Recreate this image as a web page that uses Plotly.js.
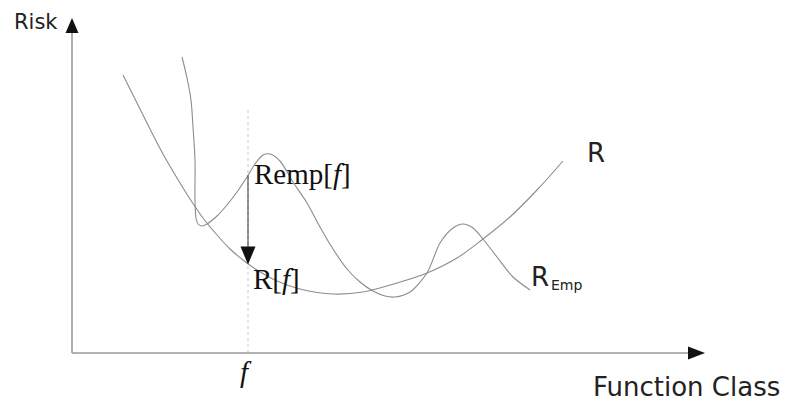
<!DOCTYPE html>
<html>
<head>
<meta charset="utf-8">
<script src="https://cdn.plot.ly/plotly-3.0.1.min.js"></script>
<style>html,body{margin:0;padding:0;background:#fff;}#chart{width:786px;height:401px;}</style>
</head>
<body>
<div id="chart"></div>
<script>
// Function-class axis (x) and risk axis (y), units
var rX    = [51, 65, 78, 91, 105, 118, 131, 145, 158, 171, 185, 205, 228, 261, 291, 325, 355, 385, 411, 438, 465, 491];
var rY    = [278, 250, 224, 199, 175, 154, 135, 118, 104, 93, 83, 72, 64, 59, 61, 70, 80, 95, 114, 136, 163, 192];

var rempX = [110, 115, 119, 121, 123, 123, 124, 126, 130, 135, 145, 155, 165, 175, 183, 191, 198, 208, 221, 235, 248, 261, 275, 288, 301, 313, 323, 338, 355, 368, 381, 391, 401, 411, 425, 441, 458];
var rempY = [296, 275, 253, 226, 193, 153, 135, 129, 127, 129, 137, 148, 161, 176, 189, 198, 199, 192, 171, 150, 126, 104, 84, 71, 62, 57, 56, 61, 80, 110, 125, 129, 125, 114, 96, 76, 63];

var fX = 176;            // the chosen function f
var fLineTop = 246;      // top of the dotted guide
var xAxisEnd = 633;      // tip of the x-axis arrow
var yAxisEnd = 335;      // tip of the y-axis arrow

function interp(xs, ys, x) {
  for (var i = 0; i < xs.length - 1; i++) {
    if (xs[i + 1] !== xs[i] && x >= Math.min(xs[i], xs[i + 1]) && x <= Math.max(xs[i], xs[i + 1])) {
      var t = (x - xs[i]) / (xs[i + 1] - xs[i]);
      return ys[i] + t * (ys[i + 1] - ys[i]);
    }
  }
  return ys[ys.length - 1];
}
var rempAtF = interp(rempX, rempY, fX);
var rAtF = interp(rX, rY, fX);

function head(tx, ty, dir, len, half) {
  // filled triangle arrow head, tip at (tx,ty)
  if (dir === 'up')    return 'M' + tx + ',' + ty + ' L' + (tx - half) + ',' + (ty - len) + ' L' + (tx + half) + ',' + (ty - len) + ' Z';
  if (dir === 'down')  return 'M' + tx + ',' + ty + ' L' + (tx - half) + ',' + (ty + len) + ' L' + (tx + half) + ',' + (ty + len) + ' Z';
  return 'M' + tx + ',' + ty + ' L' + (tx - len) + ',' + (ty - half) + ' L' + (tx - len) + ',' + (ty + half) + ' Z';
}

var curveColor = '#8c8c8c';
var traces = [
  {x: rX, y: rY, mode: 'lines', line: {color: curveColor, width: 1.1, shape: 'spline', smoothing: 1}, hoverinfo: 'skip'},
  {x: rempX, y: rempY, mode: 'lines', line: {color: curveColor, width: 1.1, shape: 'spline', smoothing: 0.8}, hoverinfo: 'skip'}
];

var shapes = [
  {type: 'line', x0: fX, x1: fX, y0: 0, y1: fLineTop, line: {color: '#c8c8c8', width: 1, dash: 'dot'}},
  {type: 'line', x0: 0, x1: xAxisEnd - 15, y0: 0, y1: 0, line: {color: '#9a9a9a', width: 1.6}},
  {type: 'line', x0: 0, x1: 0, y0: 0, y1: yAxisEnd - 13, line: {color: '#9a9a9a', width: 1.6}},
  {type: 'path', path: head(xAxisEnd, 0, 'right', 17, 6.5), fillcolor: '#111', line: {width: 0}},
  {type: 'path', path: head(0, yAxisEnd, 'up', 15, 6.5), fillcolor: '#111', line: {width: 0}},
  {type: 'line', x0: fX, x1: fX, y0: rempAtF, y1: rAtF + 10, line: {color: '#333', width: 1}},
  {type: 'path', path: head(fX, rAtF - 1, 'down', 18, 7.5), fillcolor: '#111', line: {width: 0}}
];

var sans = 'DejaVu Sans, sans-serif';
var serif = 'Liberation Serif, Times New Roman, serif';
var annotations = [
  {x: -60, y: 331, text: 'Risk', xanchor: 'left', yanchor: 'middle', showarrow: false, font: {family: sans, size: 21, color: '#222'}},
  {x: 519, y: -34, text: 'Function Class', xanchor: 'left', yanchor: 'middle', showarrow: false, font: {family: sans, size: 26, color: '#222'}},
  {x: 513, y: 200, text: 'R', xanchor: 'left', yanchor: 'middle', showarrow: false, font: {family: sans, size: 26, color: '#222'}},
  {x: 457, y: 76, text: 'R', xanchor: 'left', yanchor: 'middle', showarrow: false, font: {family: sans, size: 26, color: '#222'}},
  {x: 477, y: 68, text: 'Emp', xanchor: 'left', yanchor: 'middle', showarrow: false, font: {family: sans, size: 14, color: '#222'}},
  {x: fX + 4, y: 179, text: 'Remp[<i>f</i>]', xanchor: 'left', yanchor: 'middle', showarrow: false, font: {family: serif, size: 29, color: '#111'}},
  {x: fX + 3, y: 74, text: 'R[<i>f</i>]', xanchor: 'left', yanchor: 'middle', showarrow: false, font: {family: serif, size: 29, color: '#111'}},
  {x: fX - 2, y: -19, text: '<i>f</i>', xanchor: 'center', yanchor: 'middle', showarrow: false, font: {family: serif, size: 29, color: '#111'}}
];

var layout = {
  width: 786, height: 401,
  margin: {l: 0, r: 0, t: 0, b: 0},
  paper_bgcolor: '#fff', plot_bgcolor: '#fff',
  showlegend: false,
  xaxis: {range: [-72, 714], visible: false, fixedrange: true},
  yaxis: {range: [-48, 353], visible: false, fixedrange: true},
  shapes: shapes,
  annotations: annotations
};
Plotly.newPlot('chart', traces, layout, {displayModeBar: false, staticPlot: true});
</script>
</body>
</html>
